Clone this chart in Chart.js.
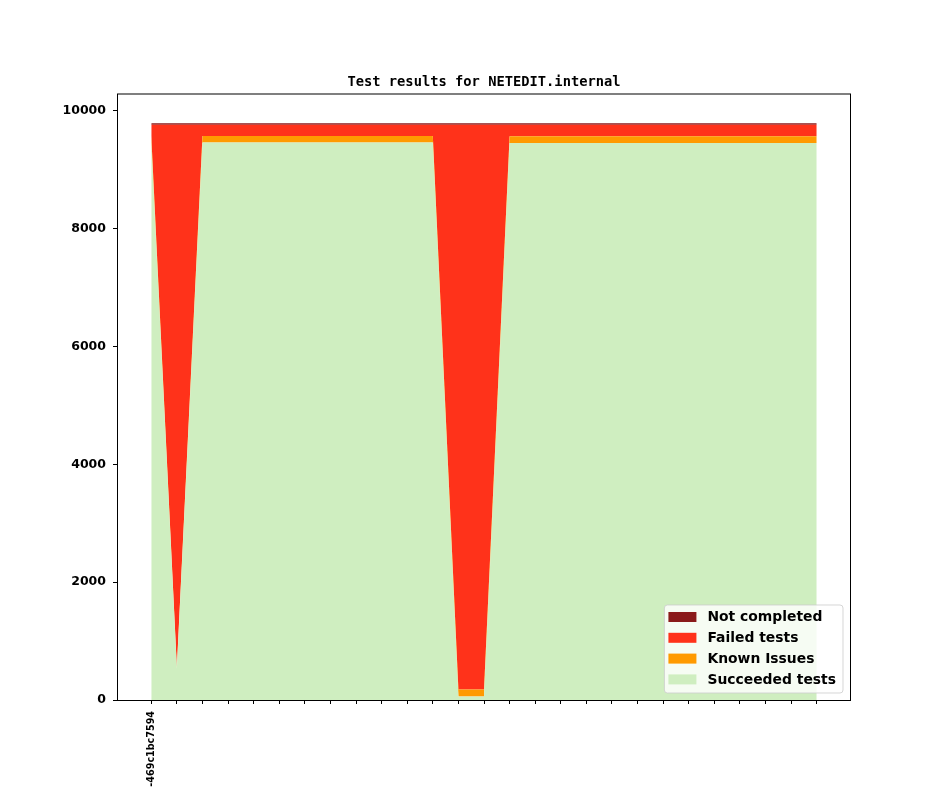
<!DOCTYPE html>
<html>
<head>
<meta charset="utf-8">
<script src="https://cdn.jsdelivr.net/npm/chart.js@4"></script>
<style>
  html, body { margin: 0; padding: 0; background: #fff; }
  #wrap { width: 944px; height: 787px; position: relative; }
</style>
</head>
<body>
<div id="wrap"><canvas id="c" width="944" height="787"></canvas></div>
<script>
// ---- data ----
const commits = [
  'v1_20_0+0512-469c1bc7594', '', '', '', '', '', '', '', '', '', '', '', '', '',
  '', '', '', '', '', '', '', '', '', '', '', '', ''
];
const succeeded = [
  9460, 530, 9460, 9460, 9460, 9460, 9460, 9460, 9460, 9460, 9460, 9460, 60, 60,
  9450, 9450, 9450, 9450, 9450, 9450, 9450, 9450, 9450, 9450, 9450, 9450, 9450
];
const knownIssues = [
  110, 25, 110, 110, 110, 110, 110, 110, 110, 110, 110, 110, 120, 120,
  115, 115, 115, 115, 115, 115, 115, 115, 115, 115, 115, 115, 115
];
const failedTests = [
  190, 9205, 190, 190, 190, 190, 190, 190, 190, 190, 190, 190, 9580, 9580,
  195, 195, 195, 195, 195, 195, 195, 195, 195, 195, 195, 195, 195
];
const notCompleted = [
  25, 25, 25, 25, 25, 25, 25, 25, 25, 25, 25, 25, 25, 25,
  25, 25, 25, 25, 25, 25, 25, 25, 25, 25, 25, 25, 25
];
const yTicks = [0, 2000, 4000, 6000, 8000, 10000];
const chartTitle = 'Test results for NETEDIT.internal';

// ---- helpers ----
const pts = arr => arr.map((v, i) => ({ x: i, y: v }));
const tickFont = { family: '"DejaVu Sans"', size: 12.5, weight: 'bold' };

const framePlugin = {
  id: 'frame',
  afterDraw(chart) {
    const { ctx, chartArea: a } = chart;
    ctx.save();
    ctx.strokeStyle = '#000';
    ctx.lineWidth = 1;
    ctx.strokeRect(a.left - 0.5, a.top - 0.5, a.right - a.left + 1, a.bottom - a.top + 1);
    ctx.restore();
  }
};

const legendPlugin = {
  id: 'boxLegend',
  afterDraw(chart) {
    const { ctx, chartArea: a } = chart;
    const items = chart.data.datasets.slice().reverse();
    ctx.save();
    ctx.font = 'bold 13.9px "DejaVu Sans"';
    const rowH = 20.8, sw = 28, sh = 10;
    const textW = Math.max(...items.map(d => ctx.measureText(d.label).width));
    const w = 4 + sw + 11 + textW + 7;
    const h = rowH * items.length + 4.8;
    const x = a.right - 7 - w;
    const y = a.bottom - 7 - h;
    const r = 3;
    ctx.beginPath();
    ctx.moveTo(x + r, y);
    ctx.lineTo(x + w - r, y);
    ctx.arcTo(x + w, y, x + w, y + r, r);
    ctx.lineTo(x + w, y + h - r);
    ctx.arcTo(x + w, y + h, x + w - r, y + h, r);
    ctx.lineTo(x + r, y + h);
    ctx.arcTo(x, y + h, x, y + h - r, r);
    ctx.lineTo(x, y + r);
    ctx.arcTo(x, y, x + r, y, r);
    ctx.closePath();
    ctx.fillStyle = 'rgba(255,255,255,0.8)';
    ctx.fill();
    ctx.strokeStyle = 'rgba(204,204,204,0.8)';
    ctx.lineWidth = 1;
    ctx.stroke();
    ctx.textBaseline = 'middle';
    ctx.textAlign = 'left';
    items.forEach((d, i) => {
      const cy = y + 12 + i * rowH;
      ctx.fillStyle = d.backgroundColor;
      ctx.fillRect(x + 4, cy - sh / 2, sw, sh);
      ctx.fillStyle = '#000';
      ctx.fillText(d.label, x + 43, cy + 0.5);
    });
    ctx.restore();
  }
};

const mk = (label, data, color, fill) => ({
  label, data: pts(data), backgroundColor: color, borderColor: color,
  borderWidth: 0, pointRadius: 0, pointHoverRadius: 0, tension: 0, fill
});

new Chart(document.getElementById('c'), {
  type: 'line',
  data: {
    datasets: [
      mk('Succeeded tests', succeeded, '#cfeec0', 'origin'),
      mk('Known Issues', knownIssues, '#ff9a00', '-1'),
      mk('Failed tests', failedTests, '#ff321a', '-1'),
      mk('Not completed', notCompleted, '#8a1a1a', '-1')
    ]
  },
  options: {
    responsive: false,
    animation: false,
    events: [],
    layout: { padding: { right: 94, left: 0, bottom: 0, top: 0 } },
    plugins: {
      legend: { display: false },
      tooltip: { enabled: false },
      title: {
        display: true,
        text: chartTitle,
        fullSize: false,
        color: '#000',
        font: { family: '"DejaVu Sans Mono"', size: 13.75, weight: 'bold', lineHeight: 1.2 },
        padding: { top: 74.5, bottom: 3.5 }
      }
    },
    scales: {
      x: {
        type: 'linear',
        min: -1.3,
        max: 27.3,
        afterBuildTicks: s => { s.ticks = commits.map((_, i) => ({ value: i })); },
        afterFit: s => { s.height = 87; },
        grid: { display: true, drawOnChartArea: false, drawTicks: true, tickLength: 4, color: '#000', lineWidth: 1 },
        border: { display: false },
        ticks: {
          autoSkip: false,
          minRotation: 90,
          maxRotation: 90,
          padding: 7,
          color: '#000',
          font: { family: '"DejaVu Sans"', size: 9.6, weight: 'bold' },
          callback: (v, i) => commits[i] || ''
        }
      },
      y: {
        stacked: true,
        min: 0,
        max: 10274,
        afterBuildTicks: s => { s.ticks = yTicks.map(v => ({ value: v })); },
        afterFit: s => { s.width = 118; },
        grid: { display: true, drawOnChartArea: false, drawTicks: true, tickLength: 5, color: '#000', lineWidth: 1 },
        border: { display: false },
        ticks: {
          padding: 7,
          color: '#000',
          font: tickFont,
          callback: v => String(v)
        }
      }
    }
  },
  plugins: [framePlugin, legendPlugin]
});
</script>
</body>
</html>
